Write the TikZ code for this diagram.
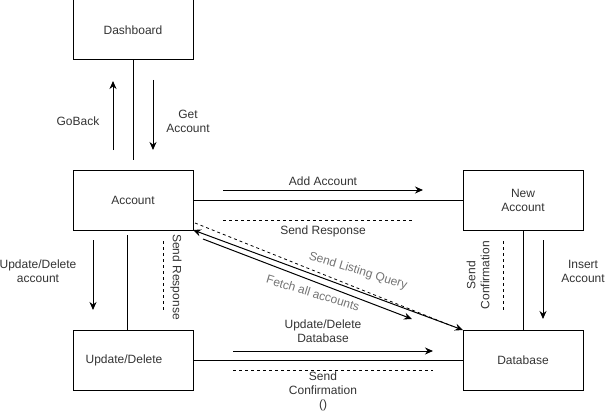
\documentclass[tikz,border=0pt]{standalone}
\usepackage{fontspec}
\setmainfont{Liberation Sans}
\usetikzlibrary{positioning,arrows.meta}
\begin{document}
\begin{tikzpicture}[x=1pt,y=-1pt,font=\fontsize{12}{14}\selectfont]
        \tikzstyle{arrow} = [line width=1pt,-{Stealth[length=8pt,width=7pt]}]
        \tikzstyle{box} = [rectangle, minimum width=120pt, minimum height=60pt, inner sep=0pt, outer sep=0pt, text centered, draw=black, line width=1pt, text=black!80]
        \tikzstyle{link} = [line width=1pt]
        \tikzstyle{reply} = [line width=0.8pt, dash pattern=on 3pt off 3pt]
        \tikzstyle{lbl} = [align=center, inner sep=0pt, text=black!80]
        \tikzstyle{tilted} = [lbl, text=black!55, rotate=-17]

        \useasboundingbox (0,0) rectangle (605,412);

        \node (account) [box] at (133,200) {Account};
        \node (dash) [box, above=110pt of account] {Dashboard};
        \node (upd) [box, below=100pt of account] {\hspace*{-18pt}Update/Delete};
        \node (newacc) [box, right=270pt of account, align=center] {New\\Account};
        \node (db) [box, below=100pt of newacc] {Database};

        \coordinate (dashend) at (133,160);
        \coordinate (updtop) at (127,235);
        \draw [link] (dash) -- (dashend);
        \draw [link] (updtop) -- (updtop |- upd.north);
        \draw [link] (account) -- (newacc);
        \draw [link] (newacc) -- (db);
        \draw [link] (upd) -- (db);
        \draw [arrow, {Stealth[length=8pt,width=7pt]}-{Stealth[length=8pt,width=7pt]}] (account.south east) -- (db.north west);

        % dashboard and account
        \coordinate (back0) at (113,150);
        \coordinate (back1) at (113,81);
        \coordinate (get0) at (153,80);
        \coordinate (get1) at (153,150);
        \draw [arrow] (back0) -- (back1);
        \draw [arrow] (get0) -- (get1);
        \node (goback) [lbl] at (78,121) {GoBack};
        \node (getacc) [lbl] at (188,121) {Get\\Account};

        % account and update/delete
        \coordinate (ud0) at (93,240);
        \coordinate (ud1) at (93,310);
        \coordinate (resp0) at (163,241);
        \coordinate (resp1) at (163,310);
        \draw [arrow] (ud0) -- (ud1);
        \draw [reply] (resp0) -- (resp1);
        \node (udlabel) [lbl] at (38,271) {Update/Delete\\account};
        \node (resplabel) [lbl, rotate=-90] at (176,277) {Send Response};

        % account and new account
        \coordinate (add0) at (223,190);
        \coordinate (add1) at (423,190);
        \coordinate (sent0) at (223,220);
        \coordinate (sent1) at (413,220);
        \draw [arrow] (add0) -- (add1);
        \draw [reply] (sent0) -- (sent1);
        \node (addlabel) [lbl] at (323,181) {Add Account};
        \node (sentlabel) [lbl] at (323,231) {Send Response};

        % new account and database
        \coordinate (ins0) at (543,240);
        \coordinate (ins1) at (543,319);
        \coordinate (conf0) at (503,241);
        \coordinate (conf1) at (503,310);
        \draw [arrow] (ins0) -- (ins1);
        \draw [reply] (conf0) -- (conf1);
        \node (inslabel) [lbl] at (583,271) {Insert\\Account};
        \node (conflabel) [lbl, rotate=90] at (478,275) {Send\\Confirmation};

        % update/delete and database
        \coordinate (udb0) at (233,351);
        \coordinate (udb1) at (433,351);
        \coordinate (back2) at (233,370);
        \coordinate (back3) at (433,370);
        \draw [arrow] (udb0) -- (udb1);
        \draw [reply] (back2) -- (back3);
        \node (udblabel) [lbl] at (323,331) {Update/Delete\\Database};
        \node (backlabel) [lbl] at (323,391) {Send\\Confirmation\\()};

        % account and database
        \coordinate (list0) at (195,223);
        \coordinate (list1) at (452,326);
        \coordinate (fetch0) at (203,239);
        \coordinate (fetch1) at (412,319);
        \draw [reply] (list0) -- (list1);
        \draw [arrow] (fetch0) -- (fetch1);
        \node (listlabel) [tilted] at (358,271) {Send Listing Query};
        \node (fetchlabel) [tilted] at (313,293) {Fetch all accounts};

    \end{tikzpicture}
\end{document}
